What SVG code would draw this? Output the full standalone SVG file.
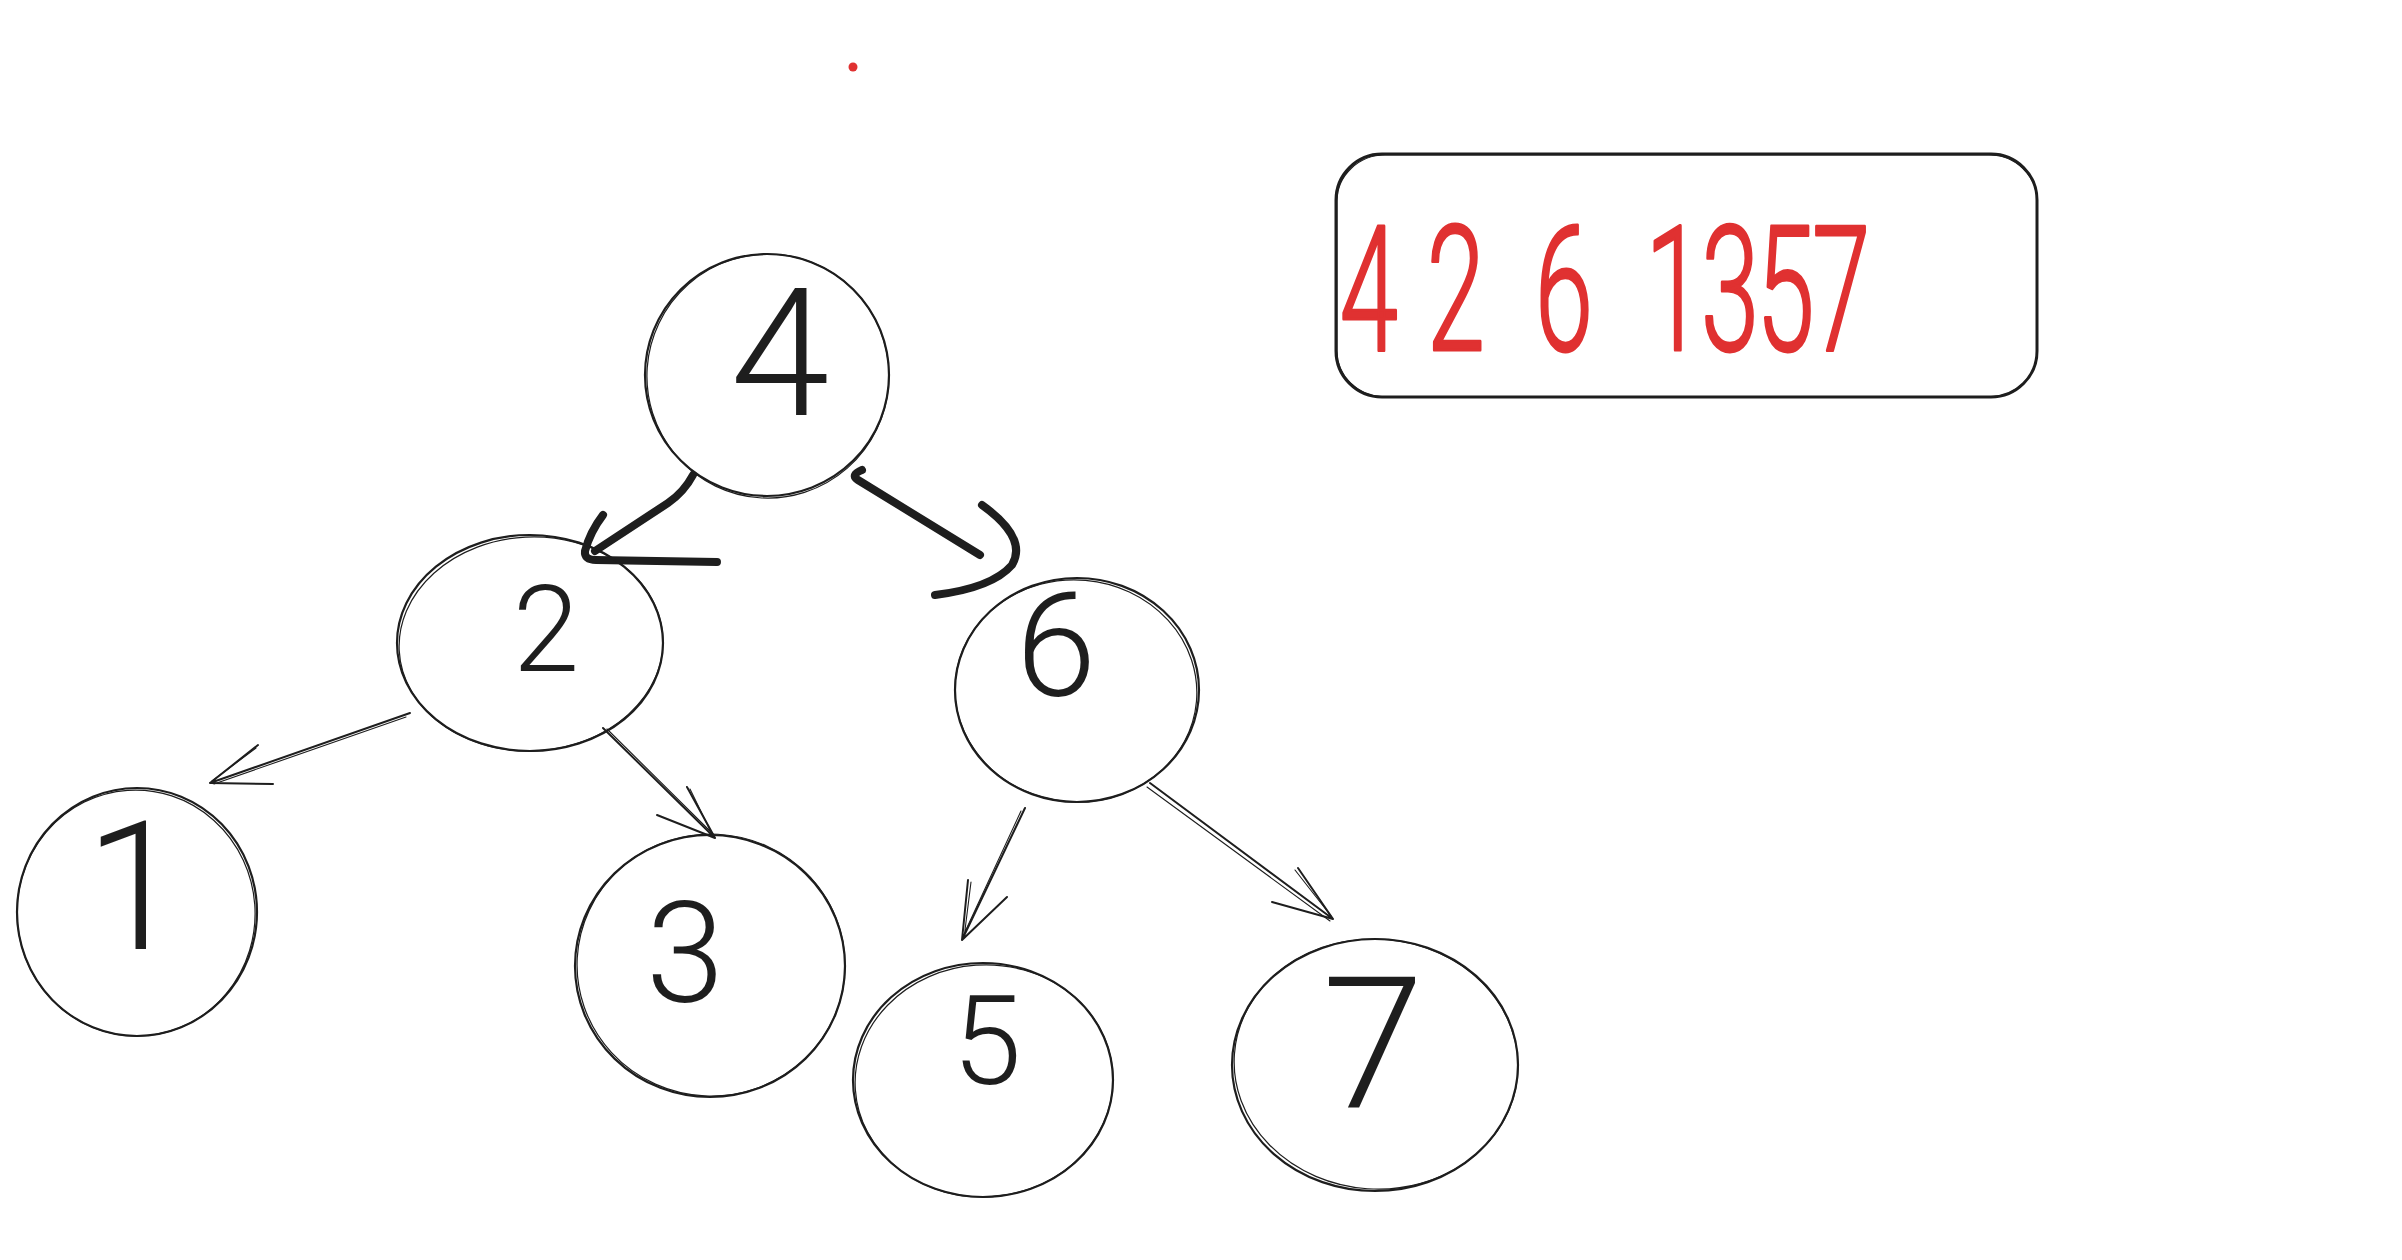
<svg xmlns="http://www.w3.org/2000/svg" xmlns:xlink="http://www.w3.org/1999/xlink" width="2402" height="1260" viewBox="0 0 2402 1260">
<defs>
<style>
.bg{fill:#ffffff}
.node{fill:none;stroke:#1e1e1e;stroke-width:2.2}
.node2{fill:none;stroke:#1e1e1e;stroke-width:1.2}
.dig{font-family:Roboto,Inter,"Liberation Sans",sans-serif;font-weight:300;fill:#1e1e1e;text-anchor:middle}
.thin{fill:none;stroke:#1e1e1e;stroke-width:2;stroke-linecap:round;stroke-linejoin:round}
.thin2{fill:none;stroke:#1e1e1e;stroke-width:1.1;stroke-linecap:round}
.thick{fill:none;stroke:#1e1e1e;stroke-width:8;stroke-linecap:round;stroke-linejoin:round}
.box{fill:none;stroke:#1e1e1e;stroke-width:3}
.red{font-family:Roboto,Inter,"Liberation Sans",sans-serif;font-weight:300;fill:#e03131;stroke:#e03131;stroke-width:3;stroke-linejoin:round}
</style>
</defs>
<rect class="bg" x="0" y="0" width="2402" height="1260"/>
<circle cx="853" cy="67" r="4.5" fill="#e03131"/>

<g id="connectors">
  <g id="e4-2">
    <path class="thick" d="M693,475 Q684,492 668,503 L595,551"/>
    <path class="thick" d="M603,515 Q590,532 585,551 Q584,560 596,560 L717,562"/>
  </g>
  <g id="e4-6">
    <path class="thick" d="M862,470 Q850,475 858,480 L980,555"/>
    <path class="thick" d="M982,505 Q1028,538 1012,565 Q992,588 935,595"/>
  </g>
  <g id="e2-1">
    <path class="thin" d="M410,713 L210,783 M210,783 L258,745 M210,783 L273,784"/>
    <path class="thin2" d="M406,717 L214,784 M212,781 L256,748"/>
  </g>
  <g id="e2-3">
    <path class="thin" d="M603,728 L715,838 M715,838 L687,787 M715,838 L657,815"/>
    <path class="thin2" d="M607,729 L713,834 M713,836 L690,789"/>
  </g>
  <g id="e6-5">
    <path class="thin" d="M1025,808 L962,940 M962,940 L968,880 M962,940 L1007,897"/>
    <path class="thin2" d="M1021,811 L964,934 M964,938 L971,882"/>
  </g>
  <g id="e6-7">
    <path class="thin" d="M1150,783 L1333,919 M1333,919 L1298,868 M1333,919 L1272,902"/>
    <path class="thin2" d="M1147,787 L1330,921 M1331,916 L1295,870"/>
  </g>
</g>

<g id="node-4">
  <ellipse class="node" cx="767" cy="375" rx="122" ry="121"/>
  <ellipse class="node2" cx="768" cy="376" rx="121" ry="122" transform="rotate(4 767 375)"/>
  <text class="dig" x="780" y="415" font-size="179">4</text>
</g>
<g id="node-2">
  <ellipse class="node" cx="530" cy="643" rx="133" ry="108"/>
  <ellipse class="node2" cx="531" cy="644" rx="132" ry="107" transform="rotate(-3 530 643)"/>
  <text class="dig" x="546" y="671" font-size="120">2</text>
</g>
<g id="node-6">
  <ellipse class="node" cx="1077" cy="690" rx="122" ry="112"/>
  <ellipse class="node2" cx="1076" cy="691" rx="121" ry="111" transform="rotate(5 1077 690)"/>
  <text class="dig" x="1056" y="696" font-size="145">6</text>
</g>
<g id="node-1">
  <ellipse class="node" cx="137" cy="912" rx="120" ry="124"/>
  <ellipse class="node2" cx="136" cy="913" rx="119" ry="123" transform="rotate(-4 137 912)"/>
  <text class="dig" x="135" y="949" font-size="180">1</text>
</g>
<g id="node-3">
  <ellipse class="node" cx="710" cy="966" rx="135" ry="131"/>
  <ellipse class="node2" cx="711" cy="965" rx="134" ry="131" transform="rotate(3 710 966)"/>
  <text class="dig" x="685" y="1002" font-size="141">3</text>
</g>
<g id="node-5">
  <ellipse class="node" cx="983" cy="1080" rx="130" ry="117"/>
  <ellipse class="node2" cx="984" cy="1081" rx="129" ry="116" transform="rotate(-4 983 1080)"/>
  <text class="dig" x="987" y="1084" font-size="125">5</text>
</g>
<g id="node-7">
  <ellipse class="node" cx="1375" cy="1065" rx="143" ry="126"/>
  <ellipse class="node2" cx="1376" cy="1064" rx="142" ry="125" transform="rotate(4 1375 1065)"/>
  <text class="dig" x="1373" y="1108" font-size="184">7</text>
</g>

<g id="result-box">
  <rect class="box" x="1336" y="154" width="701" height="243" rx="46" ry="46"/>
  <rect x="1337" y="155" width="700" height="242" rx="48" ry="46" fill="none" stroke="#1e1e1e" stroke-width="1.2"/>
  <text class="red" font-size="175" transform="matrix(0.6 0 0 1 0 0)" y="350"><tspan x="2233">4</tspan><tspan x="2378">2</tspan><tspan x="2558">6</tspan><tspan x="2680"> </tspan><tspan x="2742">1</tspan><tspan x="2835">3</tspan><tspan x="2927">5</tspan><tspan x="3020">7</tspan></text>
</g>
</svg>
